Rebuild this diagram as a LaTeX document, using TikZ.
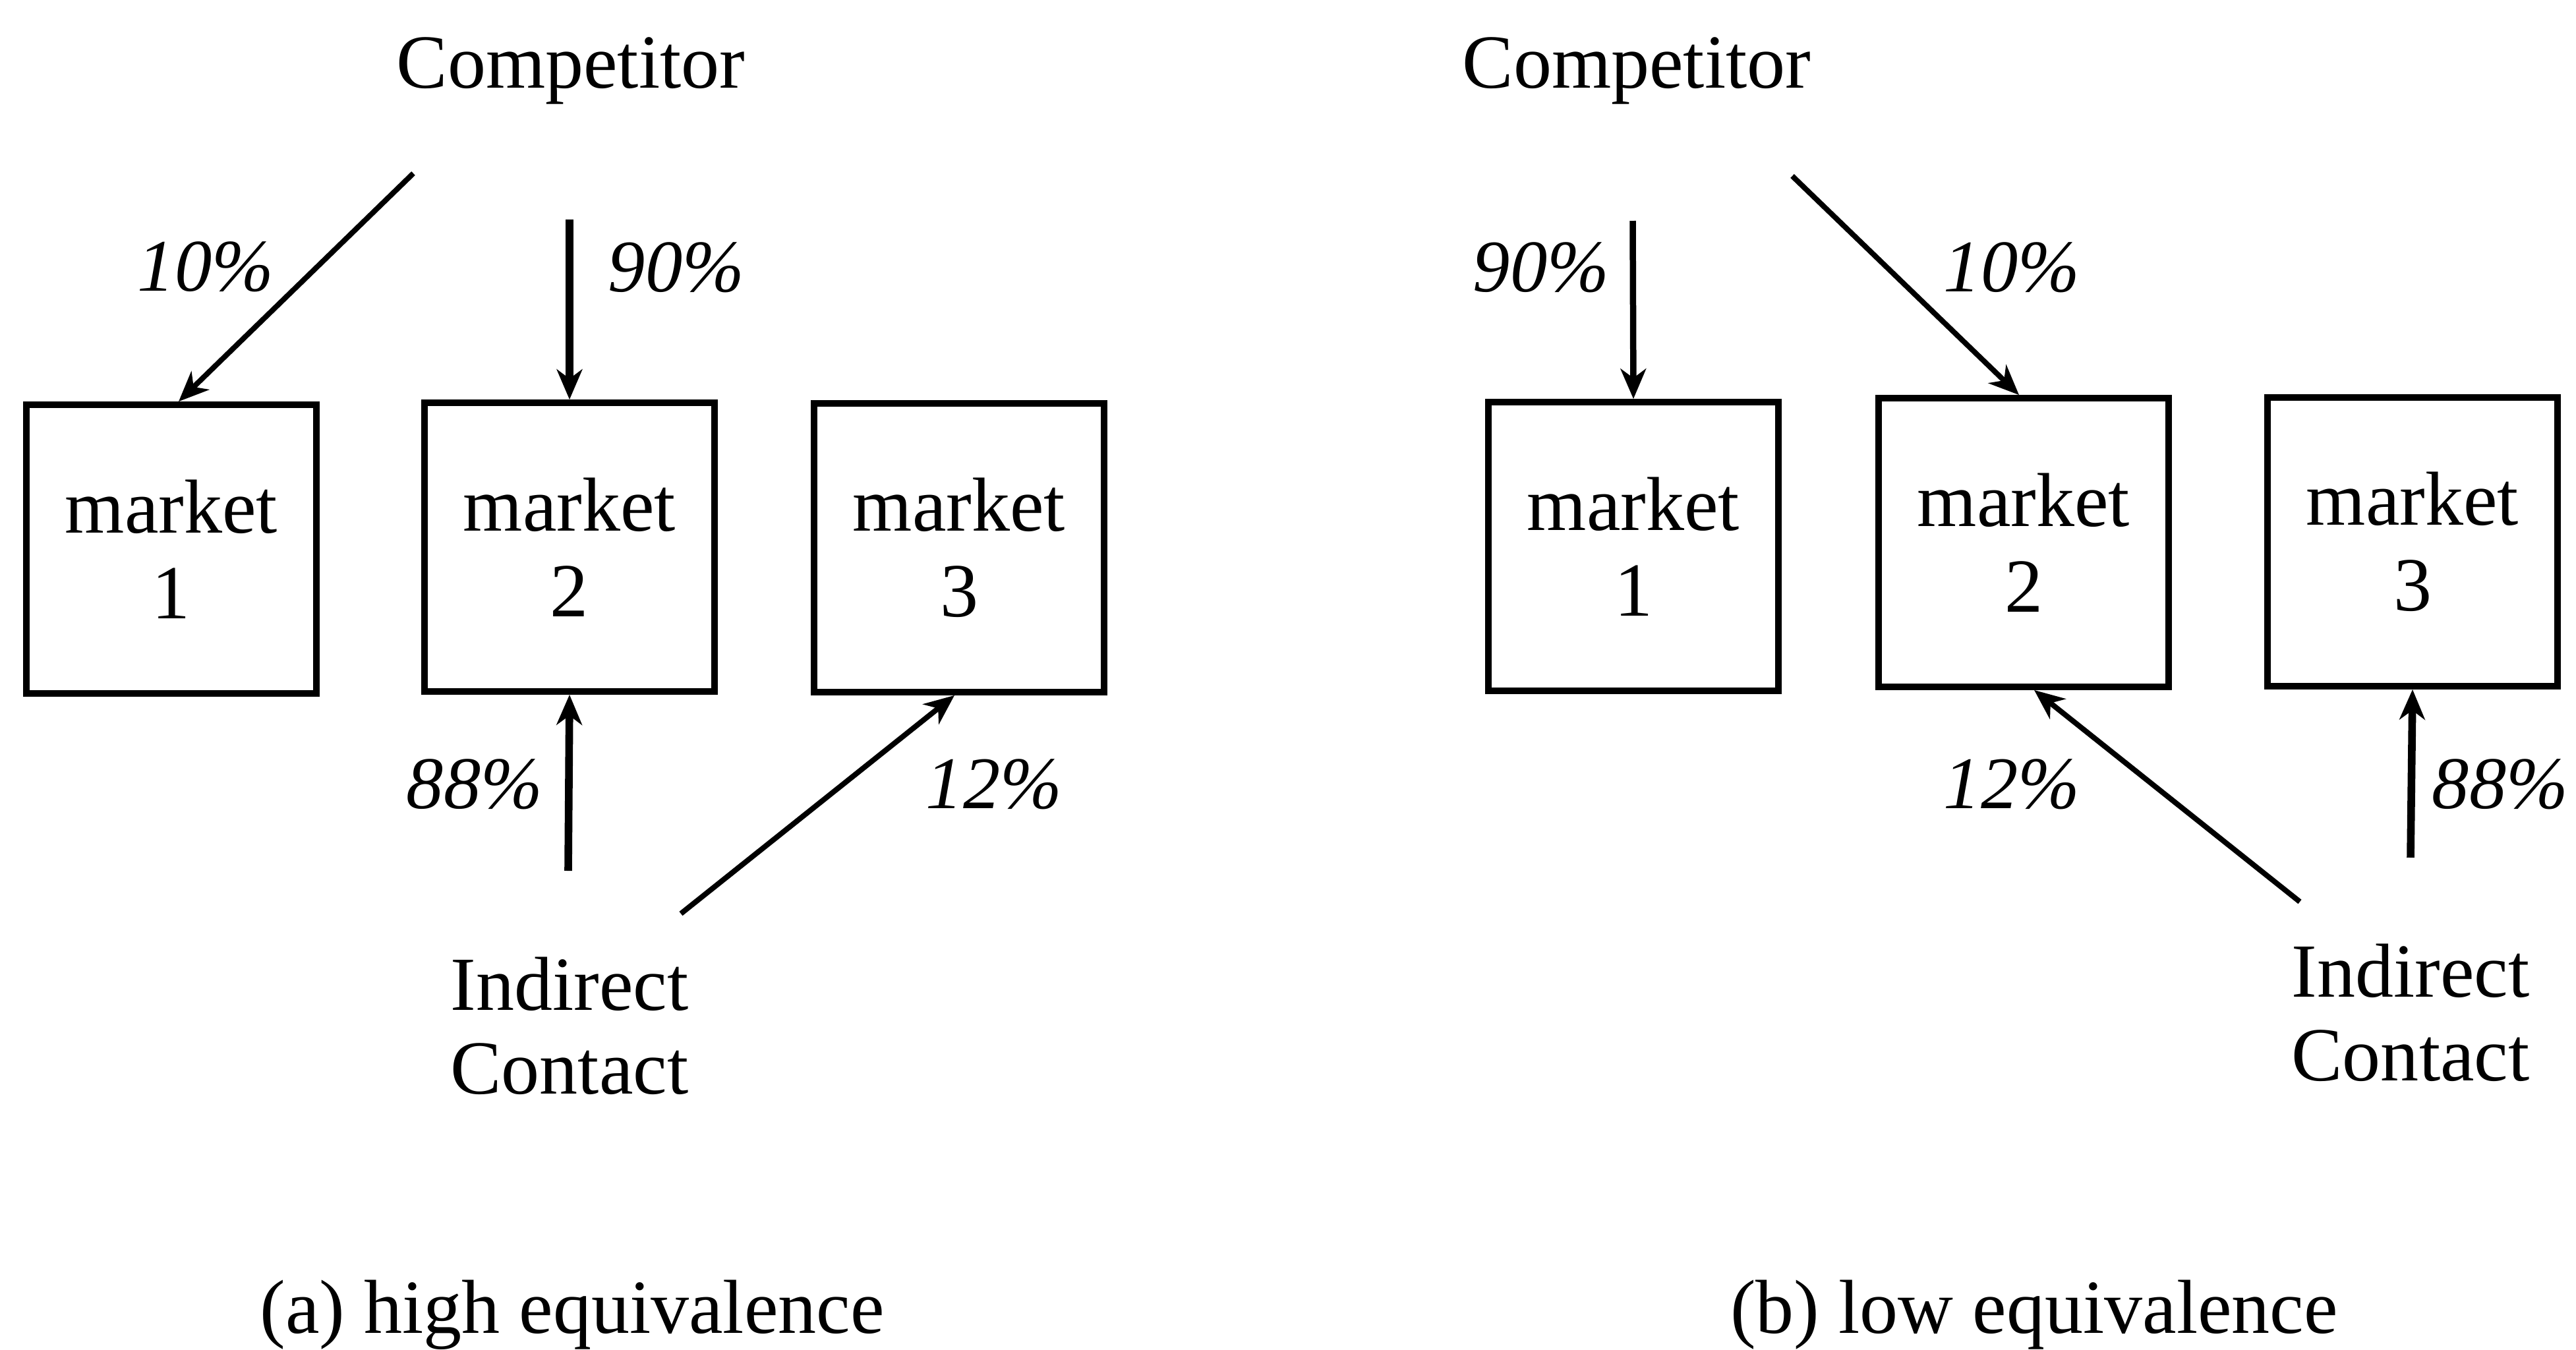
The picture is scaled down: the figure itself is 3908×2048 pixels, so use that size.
\documentclass[tikz,border=0pt]{standalone}
\usepackage{fontspec}
\setmainfont{Liberation Serif}
\usetikzlibrary{arrows.meta,calc}
\tikzset{
  txt/.style={font=\fontsize{33pt}{36pt}\selectfont, inner sep=0pt},
  pct/.style={font=\fontsize{32pt}{36pt}\selectfont\itshape, inner sep=0pt},
  mbox/.style={draw, line width=2.7pt, minimum width=4.4cm, minimum height=4.38cm,
    align=center, inner sep=0pt, font=\fontsize{33pt}{37pt}\selectfont},
  thinarr/.style={line width=2.3pt, -{Stealth[length=13pt,width=11pt,inset=4pt]}},
  midarr/.style={line width=2.7pt, -{Stealth[length=13pt,width=11pt,inset=4pt]}},
  thickarr/.style={line width=3.3pt, -{Stealth[length=13pt,width=11pt,inset=4pt]}}
}
\begin{document}
\begin{tikzpicture}[x=0.01cm,y=-0.01cm]
\useasboundingbox[fill=white] (0,0) rectangle (3908,2048);

% ---------- (a) high equivalence ----------
\node[txt, anchor=base] (compA) at (866,133) {Competitor};
\node[mbox] (a1) at (260,833) {market\\1};
\node[mbox] (a2) at (864,830) {market\\2};
\node[mbox] (a3) at (1455,831) {market\\3};
\node[txt, align=center] (indA) at (864,1556) {Indirect\\Contact};
\node[txt, anchor=base] (capA) at (868,2022) {(a) high equivalence};

\coordinate (tA10) at (627,263);
\coordinate (tA90) at (864,333);
\coordinate (tA88) at (862,1321);
\coordinate (tA12) at (1033,1386);

\draw[thinarr] (tA10) -- ($(a1.north)+(11,0)$);
\draw[thickarr] (tA90) -- (a2.north);
\draw[thickarr] (tA88) -- (a2.south);
\draw[thinarr] (tA12) -- ($(a3.south)+(-7,0)$);

\node[pct] (lA10) at (312,405) {10\%};
\node[pct] (lA90) at (1026,406) {90\%};
\node[pct] (lA88) at (720,1190) {88\%};
\node[pct] (lA12) at (1508,1190) {12\%};

% ---------- (b) low equivalence ----------
\node[txt, anchor=base] (compB) at (2483,133) {Competitor};
\node[mbox] (b1) at (2478,829) {market\\1};
\node[mbox] (b2) at (3070,823) {market\\2};
\node[mbox] (b3) at (3660,822) {market\\3};
\node[txt, align=center] (indB) at (3657,1536) {Indirect\\Contact};
\node[txt, anchor=base] (capB) at (3086,2022) {(b) low equivalence};

\coordinate (tB90) at (2477,335);
\coordinate (tB10) at (2719,267);
\coordinate (tB12) at (3489,1368);
\coordinate (tB88) at (3657,1301);

\draw[midarr] (tB90) -- (b1.north);
\draw[thinarr] (tB10) -- ($(b2.north)+(-7,0)$);
\draw[thinarr] (tB12) -- ($(b2.south)+(16,0)$);
\draw[thickarr] (tB88) -- (b3.south);

\node[pct] (lB90) at (2338,406) {90\%};
\node[pct] (lB10) at (3052,406) {10\%};
\node[pct] (lB12) at (3052,1190) {12\%};
\node[pct] (lB88) at (3793,1190) {88\%};
\end{tikzpicture}
\end{document}
